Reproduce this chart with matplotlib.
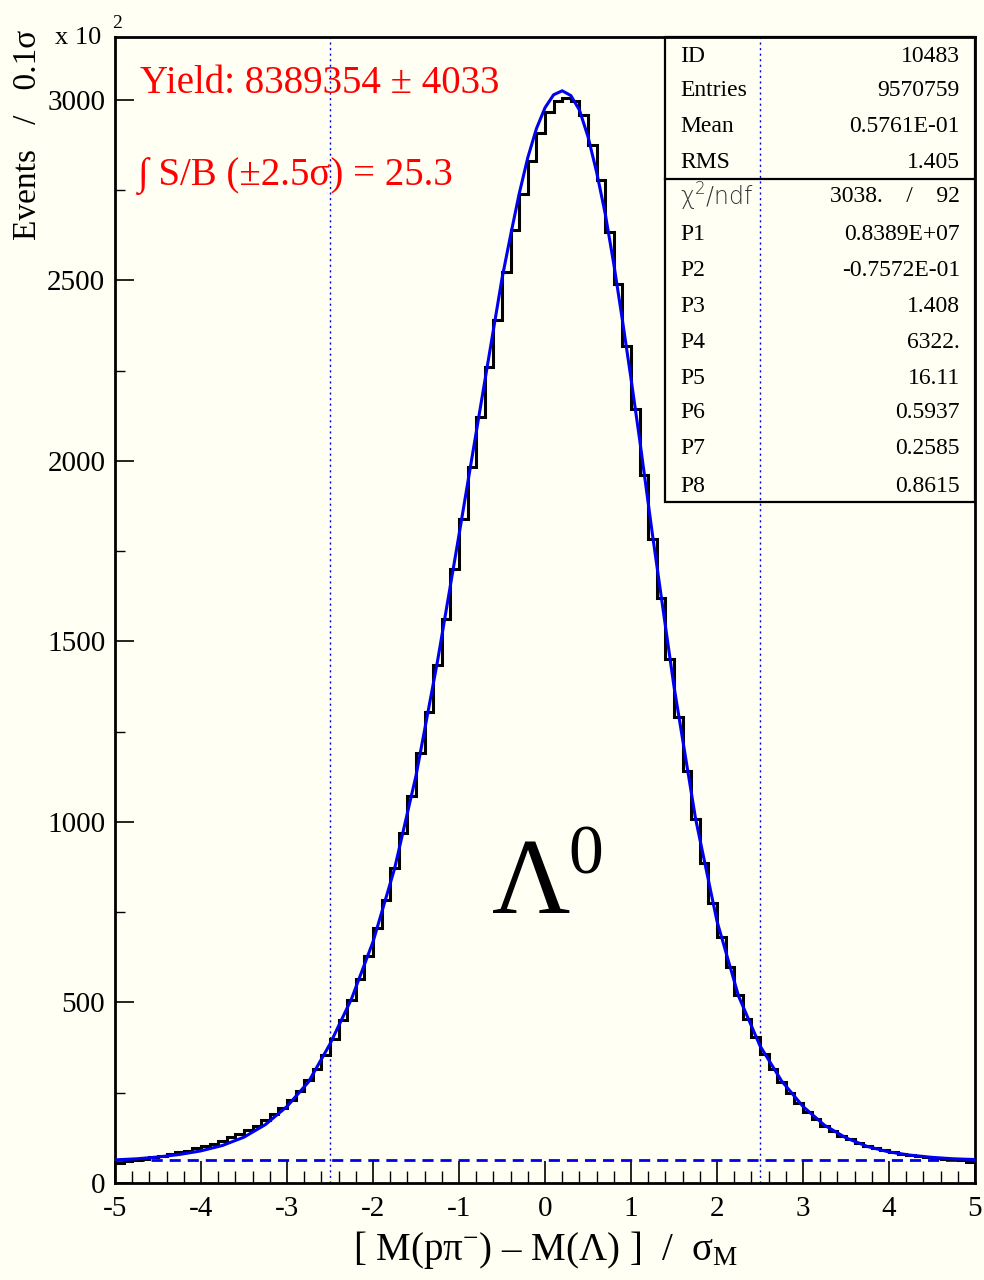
import numpy as np
import matplotlib
matplotlib.use('Agg')
import matplotlib.pyplot as plt
from matplotlib.patches import Rectangle
from matplotlib.lines import Line2D

plt.rcParams['font.family'] = ['Liberation Serif', 'DejaVu Serif']
plt.rcParams['mathtext.fontset'] = 'custom'
plt.rcParams['mathtext.rm'] = 'Liberation Serif'
plt.rcParams['mathtext.it'] = 'Liberation Serif:italic'
plt.rcParams['mathtext.default'] = 'regular'
plt.rcParams['axes.unicode_minus'] = False

# histogram contents, x10^2 events per 0.1 sigma, 100 bins from -5 to 5
counts = [56, 60, 64, 67, 71, 75, 79, 85, 90, 96,
          102, 108, 117, 127, 136, 147, 159, 174, 190, 209,
          230, 256, 284, 316, 355, 400, 451, 507, 566, 630,
          705, 784, 873, 969, 1072, 1190, 1305, 1435, 1563, 1701,
          1840, 1983, 2122, 2260, 2389, 2522, 2640, 2739, 2830, 2907,
          2965, 2996, 3006, 2997, 2958, 2876, 2778, 2635, 2491, 2317,
          2144, 1960, 1783, 1620, 1451, 1292, 1141, 1007, 886, 775,
          682, 599, 521, 453, 404, 356, 315, 281, 250, 221,
          198, 176, 158, 144, 131, 121, 112, 103, 97, 91,
          86, 80, 77, 74, 71, 69, 67, 66, 63, 58]

# fitted curve
fit_x = [-5.0, -4.75, -4.5, -4.25, -4.0, -3.75, -3.5, -3.25, -3.0, -2.75,
         -2.5, -2.25, -2.0, -1.75, -1.5, -1.25, -1.0, -0.75, -0.5, -0.4,
         -0.3, -0.2, -0.1, 0.0, 0.1, 0.2, 0.3, 0.4, 0.5, 0.6,
         0.7, 0.8, 0.9, 1.0, 1.1, 1.25, 1.5, 1.75, 2.0, 2.25,
         2.5, 2.75, 3.0, 3.25, 3.5, 3.75, 4.0, 4.25, 4.5, 4.75,
         5.0]
fit_y = [64, 67, 72, 79, 89, 104, 127, 162, 212, 280,
         385, 510, 668, 870, 1128, 1445, 1795, 2150, 2505, 2625,
         2740, 2840, 2920, 2978, 3014, 3025, 3012, 2972, 2898, 2800,
         2685, 2545, 2390, 2228, 2060, 1795, 1375, 1010, 725, 518,
         380, 283, 212, 160, 125, 101, 86, 77, 71, 67,
         65]

background = 63.22
window = [-2.5, 2.5]

stat_names = ['ID', 'Entries', 'Mean', 'RMS']
stat_vals = ['10483', '9570759', '0.5761E-01', '1.405']
par_names = ['P1', 'P2', 'P3', 'P4', 'P5', 'P6', 'P7', 'P8']
par_vals = ['0.8389E+07', '-0.7572E-01', '1.408', '6322.', '16.11',
            '0.5937', '0.2585', '0.8615']
chi2, ndf = '3038.', '92'

W, H = 984, 1280
bg = '#fffff3'


def fx(px):
    return px / W


def fy(py):
    return 1 - py / H


fig = plt.figure(figsize=(W / 100, H / 100), dpi=100, facecolor=bg)
ax = fig.add_axes([fx(115), fy(1183), 860 / W, 1146 / H])
ax.set_facecolor(bg)

edges = np.linspace(-5, 5, len(counts) + 1)
ax.stairs(counts, edges, baseline=None, color='black', lw=2.2, zorder=3)
ax.plot(fit_x, fit_y, color='#0000f0', lw=2.2, zorder=4)
ax.axhline(background, color='#0000f0', lw=2, ls=(0, (4, 2.5)), zorder=2)
for xv in window:
    ax.axvline(xv, color='#0000f0', lw=1, ls=(0, (1.5, 2.5)), zorder=2)

ax.set_xlim(-5, 5)
ax.set_ylim(0, 3174)
ax.set_xticks(range(-5, 6))
ax.set_xticklabels([str(v) for v in range(-5, 6)])
ax.set_xticks(np.arange(-5, 5.01, 0.2), minor=True)
ax.set_yticks(range(0, 3001, 500))
ax.set_yticklabels([str(v) for v in range(0, 3001, 500)])
ax.set_yticks(range(250, 3001, 500), minor=True)
ax.tick_params(axis='x', which='major', direction='in', length=16, width=1.2,
               labelsize=21, pad=9)
ax.tick_params(axis='x', which='minor', direction='in', length=8.5, width=1)
ax.tick_params(axis='y', which='major', direction='in', length=14, width=1.2,
               labelsize=21, pad=7)
ax.tick_params(axis='y', which='minor', direction='in', length=7, width=1)
for s in ax.spines.values():
    s.set_linewidth(2)

# axis titles
xlab = r'[ M(p$\pi^{-}$) ' + '\u2013' + r' M($\Lambda$) ]  /  $\sigma_{M}$'
fig.text(fx(546), fy(1250), xlab, fontsize=28, ha='center', va='center')
fig.text(fx(28), fy(30), 'Events   /   0.1\u03c3', fontsize=24,
         rotation=90, ha='center', va='top')
fig.text(fx(55), fy(44), 'x 10', fontsize=19, ha='left', va='baseline')
fig.text(fx(112), fy(28), '2', fontsize=14, ha='left', va='baseline')

# red annotations
fig.text(fx(140), fy(93), 'Yield: 8389354 \u00b1 4033', fontsize=28,
         color='red', ha='left', va='baseline')
fig.text(fx(138), fy(185), '\u222b S/B (\u00b12.5\u03c3) = 25.3', fontsize=28,
         color='red', ha='left', va='baseline')

# Lambda label
fig.text(fx(492), fy(913), '\u039b', fontsize=78, ha='left', va='baseline')
fig.text(fx(568), fy(874), '0', fontsize=50, ha='left', va='baseline')

# statistics box
x0, x1, ytop, ysep, ybot = 665, 975, 37, 179, 502
fig.add_artist(Rectangle((fx(x0), fy(ybot)), (x1 - x0) / W, (ybot - ytop) / H,
                         transform=fig.transFigure, fill=False, lw=1.6,
                         edgecolor='black', zorder=6))
fig.add_artist(Line2D([fx(x0), fx(x1)], [fy(ysep), fy(ysep)],
                      transform=fig.transFigure, color='black', lw=1.6, zorder=6))

row_y = [56, 91, 127, 162]
for name, val, yy in zip(stat_names, stat_vals, row_y):
    fig.text(fx(680), fy(yy), name, fontsize=17, ha='left', va='center')
    fig.text(fx(960), fy(yy), val, fontsize=17, ha='right', va='center')

fig.text(fx(680), fy(197), r'$\chi^{2}$/ndf', fontsize=17, ha='left',
         va='center', family=['DejaVu Sans'], fontweight='light', color='#333333')
fig.text(fx(960), fy(197), chi2 + '    /    ' + ndf, fontsize=17,
         ha='right', va='center')
row_y = [234, 270, 306, 342, 378, 413, 449, 486]
for name, val, yy in zip(par_names, par_vals, row_y):
    fig.text(fx(680), fy(yy), name, fontsize=17, ha='left', va='center')
    fig.text(fx(960), fy(yy), val, fontsize=17, ha='right', va='center')

fig.savefig('out.png', dpi=100, facecolor=bg)
